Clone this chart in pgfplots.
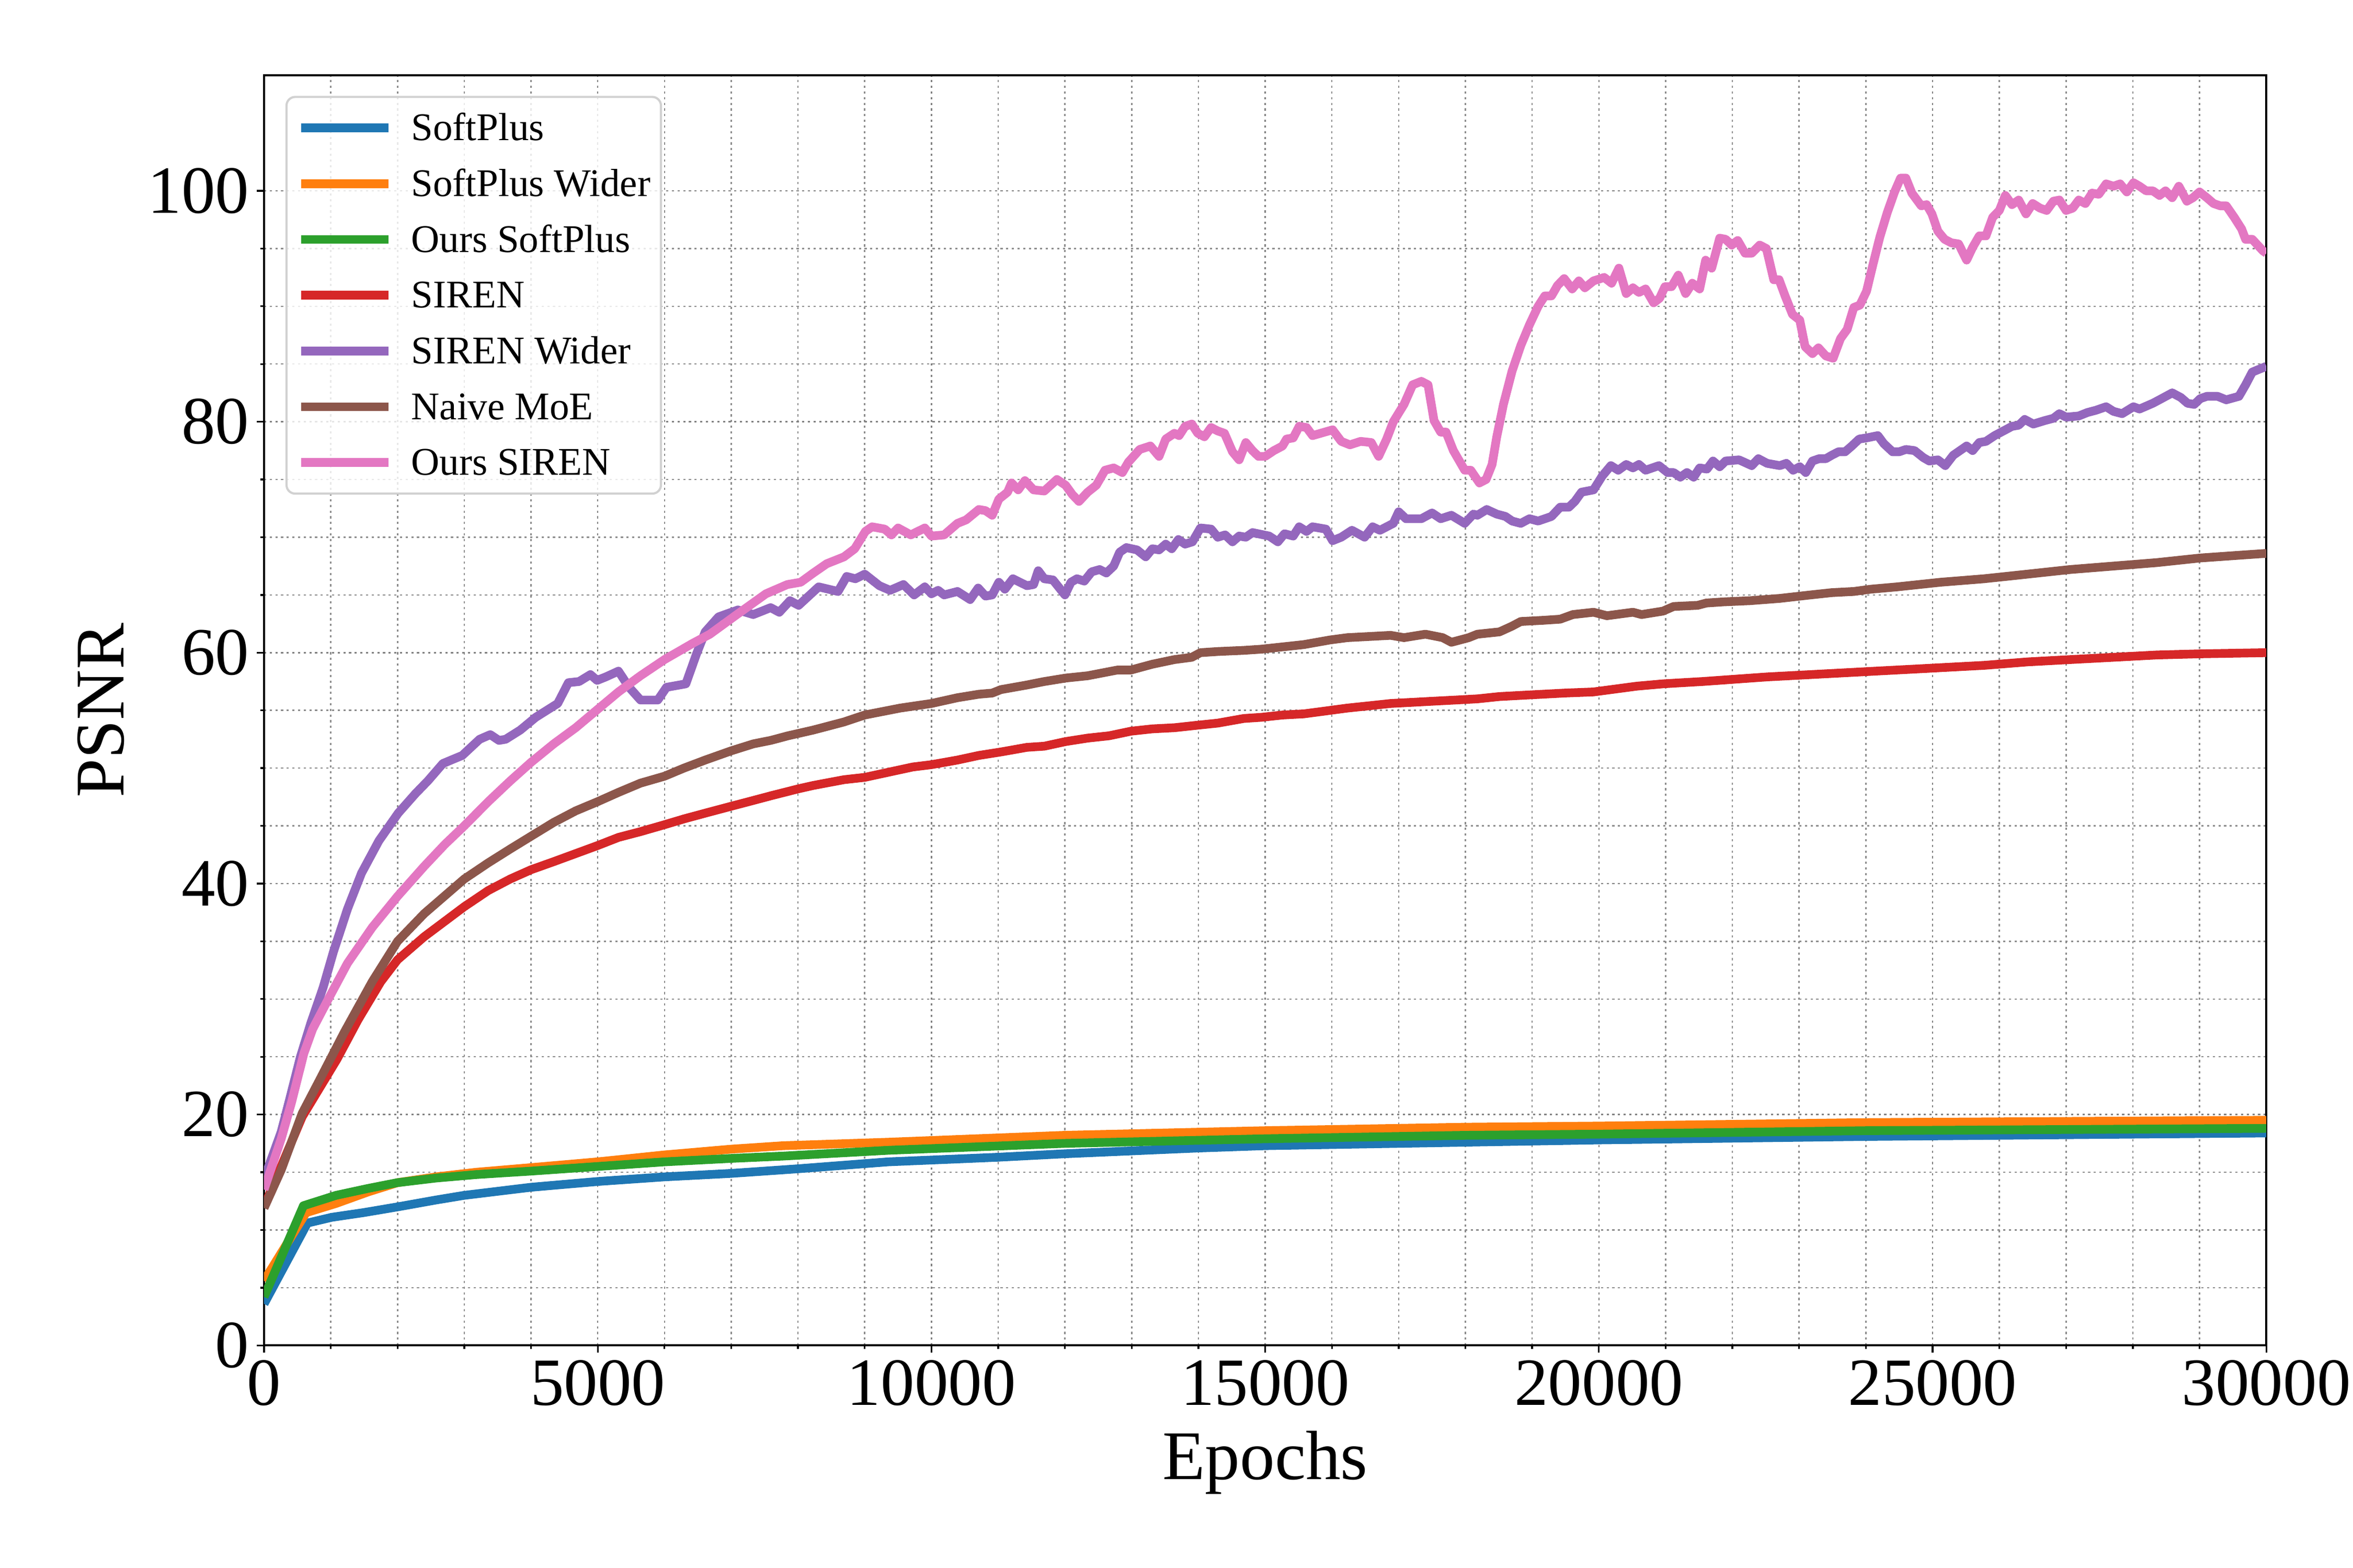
\documentclass[border=0pt]{standalone}
\usepackage{fontspec}
\setmainfont{Liberation Serif}
\usepackage{pgfplots}
\pgfplotsset{compat=1.18}
\definecolor{tabblue}{HTML}{1F77B4}
\definecolor{taborange}{HTML}{FF7F0E}
\definecolor{tabgreen}{HTML}{2CA02C}
\definecolor{tabred}{HTML}{D62728}
\definecolor{tabpurple}{HTML}{9467BD}
\definecolor{tabbrown}{HTML}{8C564B}
\definecolor{tabpink}{HTML}{E377C2}
\begin{document}
\begin{tikzpicture}
\useasboundingbox (-121.2pt,-102pt) rectangle (958.8pt,617.6pt);
\begin{axis}[
  at={(0,0)}, anchor=south west,
  scale only axis, width=919pt, height=583pt,
  xmin=0, xmax=30000, ymin=0, ymax=110,
  xtick={0,5000,...,30000}, ytick={0,20,...,100},
  minor x tick num=4, minor y tick num=3,
  scaled x ticks=false,
  /pgf/number format/assume math mode=true,
  /pgf/number format/1000 sep={},
  tick pos=left, tick align=outside,
  major tick length=3.3pt, minor tick length=1.7pt,
  tick style={black, line width=0.8pt},
  axis line style={black, line width=0.9pt},
  grid=both,
  major grid style={black!50, line width=0.6pt, dash pattern=on 1pt off 1.6pt},
  minor grid style={black!45, line width=0.6pt, dash pattern=on 1pt off 1.6pt},
  xticklabel style={font=\fontsize{31}{37}\selectfont},
  yticklabel style={font=\fontsize{31}{37}\selectfont},
  xlabel={Epochs}, ylabel={PSNR},
  xlabel style={font=\fontsize{32}{38}\selectfont, at={(axis description cs:0.5,0)}, anchor=center, yshift=-53.8pt},
  ylabel style={font=\fontsize{32}{38}\selectfont, at={(axis description cs:-0.0816,0.5)}, anchor=center},
  legend cell align=left,
  legend image code/.code={\draw[#1, line cap=butt] (0pt,0pt) -- (40pt,0pt);},
  legend style={
    at={(axis description cs:0,1)}, anchor=north west, xshift=9.8pt, yshift=-9.4pt,
    draw=black!18, line width=1pt, rounded corners=4pt,
    fill=white, fill opacity=0.8, text opacity=1,
    font=\fontsize{18}{21.6}\selectfont,
    inner xsep=4.8pt, inner ysep=5.5pt,
    nodes={inner sep=0pt, text height=14.5pt, text depth=3pt},
    row sep=8.1pt,
    /tikz/every odd column/.append style={column sep=8.5pt},
  },
  every axis plot/.append style={line width=4pt, line join=round},
]
% SoftPlus
\addplot[tabblue] coordinates {
(0,3.6) (650,10.6) (1016,11.1) (1487,11.5) (2000,12.0) (2580,12.6) (3000,13.0) (4000,13.7) (5000,14.2) (6000,14.6) (7000,14.9) (8000,15.3) (9350,15.9) (11000,16.3) (12000,16.6) (14000,17.1) (15000,17.3) (17000,17.5) (18000,17.6) (20000,17.8) (24000,18.1) (30000,18.4)
};
\addlegendentry{SoftPlus}
% SoftPlus Wider
\addplot[taborange] coordinates {
(0,5.6) (630,11.5) (1080,12.3) (1560,13.3) (2000,14.1) (2580,14.6) (3180,15.0) (4000,15.4) (5000,15.9) (6000,16.5) (7000,17.0) (7780,17.3) (9350,17.6) (12000,18.2) (15000,18.6) (18000,18.9) (20000,19.0) (24000,19.3) (30000,19.5)
};
\addlegendentry{SoftPlus Wider}
% Ours SoftPlus
\addplot[tabgreen] coordinates {
(0,4.2) (590,12.1) (1080,13.0) (1560,13.6) (2000,14.1) (2580,14.5) (3180,14.8) (4000,15.1) (5000,15.5) (6000,15.9) (7000,16.2) (7780,16.4) (9350,16.9) (12000,17.5) (15000,17.9) (18000,18.2) (20000,18.3) (24000,18.6) (30000,18.8)
};
\addlegendentry{Ours SoftPlus}
% SIREN
\addplot[tabred] coordinates {
(0,12.0) (571,19.8) (1094,24.8) (1408,28.2) (1749,31.5) (2000,33.4) (2400,35.4) (3000,38.0) (3360,39.4) (3690,40.4) (4000,41.2) (4340,41.9) (4670,42.6) (5000,43.3) (5310,44.0) (5640,44.5) (6000,45.1) (6290,45.6) (6610,46.1) (7000,46.7) (7330,47.2) (7590,47.6) (8000,48.2) (8230,48.5) (8690,49.0) (9000,49.2) (9400,49.7) (9720,50.1) (10000,50.3) (10390,50.7) (10710,51.1) (11040,51.4) (11430,51.8) (11690,51.9) (12010,52.3) (12340,52.6) (12660,52.8) (12990,53.2) (13310,53.4) (13640,53.5) (13960,53.7) (14290,53.9) (14680,54.3) (14940,54.4) (15260,54.6) (15580,54.7) (15970,55.0) (16230,55.2) (16560,55.4) (16880,55.6) (17210,55.7) (17530,55.8) (17860,55.9) (18180,56.0) (18510,56.2) (18830,56.3) (19160,56.4) (19480,56.5) (19920,56.6) (20310,56.9) (20570,57.1) (20960,57.3) (21550,57.5) (22520,57.9) (23170,58.1) (23820,58.3) (24470,58.5) (25120,58.7) (25770,58.9) (26420,59.2) (27060,59.4) (27710,59.6) (28360,59.8) (29010,59.9) (30000,60.0)
};
\addlegendentry{SIREN}
% SIREN Wider
\addplot[tabpurple] coordinates {
(0,14.4) (257,18.5) (387,21.4) (545,25.0) (700,27.9) (885,31.0) (1040,34.1) (1250,37.8) (1460,40.9) (1720,43.7) (2010,46.1) (2270,47.8) (2455,48.9) (2680,50.4) (2970,51.1) (3230,52.5) (3390,52.9) (3520,52.4) (3620,52.5) (3840,53.3) (4070,54.4) (4400,55.6) (4560,57.4) (4720,57.5) (4890,58.1) (4990,57.6) (5120,57.9) (5310,58.4) (5470,57.0) (5640,55.9) (5900,55.9) (6030,57.0) (6320,57.3) (6480,59.9) (6610,61.8) (6810,63.1) (7100,63.7) (7330,63.3) (7590,63.9) (7720,63.5) (7880,64.5) (8010,64.1) (8310,65.7) (8600,65.3) (8730,66.6) (8860,66.4) (9000,66.8) (9220,65.8) (9380,65.4) (9580,65.9) (9740,65.0) (9900,65.7) (10000,65.1) (10100,65.4) (10190,65.0) (10390,65.3) (10580,64.6) (10700,65.6) (10810,64.9) (10910,65.0) (11010,66.1) (11100,65.5) (11220,66.4) (11430,65.8) (11530,65.9) (11600,67.1) (11690,66.4) (11820,66.3) (12000,65.0) (12090,66.1) (12180,66.4) (12290,66.2) (12400,67.0) (12520,67.2) (12620,66.9) (12730,67.5) (12820,68.7) (12920,69.1) (13080,68.9) (13210,68.3) (13310,69.0) (13410,68.9) (13510,69.4) (13600,69.0) (13700,69.8) (13800,69.4) (13910,69.6) (14030,70.8) (14190,70.7) (14290,70.0) (14400,70.2) (14510,69.6) (14610,70.1) (14710,70.0) (14810,70.4) (15060,70.1) (15190,69.6) (15290,70.3) (15420,70.1) (15510,70.9) (15620,70.5) (15710,70.9) (15910,70.7) (16010,69.7) (16140,70.0) (16300,70.6) (16490,70.0) (16610,70.9) (16720,70.6) (16920,71.2) (17000,72.2) (17110,71.6) (17340,71.6) (17500,72.1) (17630,71.6) (17790,71.9) (17990,71.2) (18120,72.0) (18180,71.9) (18320,72.4) (18470,72.0) (18600,71.8) (18700,71.4) (18830,71.2) (18960,71.6) (19090,71.4) (19290,71.8) (19420,72.6) (19550,72.6) (19640,73.1) (19740,73.9) (19920,74.1) (20050,75.3) (20180,76.2) (20290,75.8) (20410,76.3) (20510,76.0) (20600,76.3) (20700,75.8) (20900,76.2) (21030,75.6) (21120,75.6) (21220,75.2) (21320,75.6) (21420,75.2) (21510,76.0) (21620,75.9) (21710,76.6) (21810,76.1) (21900,76.6) (22100,76.7) (22290,76.2) (22390,76.8) (22520,76.4) (22710,76.2) (22810,76.4) (22910,75.8) (23010,76.1) (23100,75.6) (23200,76.6) (23300,76.8) (23400,76.8) (23490,77.1) (23590,77.4) (23690,77.4) (23790,77.9) (23900,78.5) (24010,78.6) (24180,78.8) (24270,78.1) (24400,77.4) (24500,77.4) (24600,77.6) (24730,77.5) (24860,76.9) (24950,76.6) (25080,76.7) (25190,76.2) (25310,77.1) (25510,77.9) (25600,77.5) (25700,78.2) (25800,78.3) (25930,78.8) (26060,79.2) (26190,79.6) (26290,79.7) (26380,80.2) (26510,79.8) (26680,80.1) (26810,80.3) (26900,80.7) (27000,80.4) (27190,80.5) (27320,80.8) (27450,81.0) (27600,81.3) (27710,80.9) (27840,80.7) (28010,81.3) (28100,81.1) (28300,81.6) (28430,82.0) (28590,82.5) (28720,82.1) (28820,81.6) (28920,81.5) (29010,82.0) (29110,82.2) (29270,82.2) (29400,81.9) (29590,82.2) (29690,83.2) (29790,84.3) (30000,84.8)
};
\addlegendentry{SIREN Wider}
% Naive MoE
\addplot[tabbrown] coordinates {
(0,11.9) (257,15.2) (571,20.1) (833,23.0) (1200,27.1) (1620,31.5) (2000,35.0) (2400,37.4) (3000,40.4) (3360,41.8) (3690,43.0) (4000,44.1) (4340,45.3) (4670,46.3) (5000,47.1) (5310,47.9) (5640,48.7) (6000,49.3) (6290,50.0) (6610,50.7) (7000,51.5) (7330,52.1) (7590,52.4) (7850,52.8) (8230,53.3) (8690,54.0) (9000,54.6) (9530,55.2) (10000,55.6) (10390,56.1) (10710,56.4) (10910,56.5) (11040,56.8) (11430,57.2) (11690,57.5) (12010,57.8) (12340,58.0) (12790,58.5) (12990,58.5) (13310,59.0) (13640,59.4) (13900,59.6) (14030,60.0) (14290,60.1) (14680,60.2) (14940,60.3) (15260,60.5) (15580,60.7) (15970,61.1) (16230,61.3) (16560,61.4) (16880,61.5) (17080,61.3) (17400,61.6) (17660,61.3) (17790,60.9) (18050,61.3) (18180,61.6) (18510,61.8) (18700,62.3) (18830,62.7) (19160,62.8) (19420,62.9) (19610,63.3) (19920,63.5) (20120,63.2) (20510,63.5) (20640,63.3) (20960,63.6) (21120,64.0) (21480,64.1) (21610,64.3) (21870,64.4) (22260,64.5) (22710,64.7) (23170,65.0) (23490,65.2) (23820,65.3) (24080,65.5) (24470,65.7) (25120,66.1) (25770,66.4) (26420,66.8) (27060,67.2) (27710,67.5) (28360,67.8) (29010,68.2) (30000,68.6)
};
\addlegendentry{Naive MoE}
% Ours SIREN
\addplot[tabpink] coordinates {
(0,13.5) (257,17.9) (414,21.1) (597,25.3) (728,27.4) (963,30.0) (1250,33.1) (1620,36.2) (2000,38.9) (2400,41.5) (2710,43.4) (3000,45.0) (3360,47.1) (3690,48.9) (4000,50.5) (4340,52.1) (4670,53.5) (5000,55.1) (5310,56.6) (5640,58.0) (6000,59.4) (6420,60.8) (6680,61.6) (7060,63.2) (7520,65.1) (7840,65.9) (8040,66.1) (8230,66.9) (8430,67.7) (8690,68.3) (8850,69.0) (9010,70.5) (9110,70.9) (9300,70.7) (9400,70.2) (9500,70.8) (9690,70.2) (9900,70.8) (10000,70.1) (10190,70.2) (10390,71.2) (10520,71.5) (10710,72.4) (10810,72.3) (10910,71.9) (11010,73.3) (11140,73.9) (11200,74.7) (11300,74.1) (11400,74.9) (11530,74.1) (11690,74.0) (11880,75.0) (12010,74.5) (12110,73.7) (12210,73.1) (12340,73.9) (12470,74.5) (12600,75.8) (12730,76.0) (12860,75.6) (12950,76.5) (13120,77.6) (13280,77.9) (13410,77.0) (13510,78.5) (13640,79.0) (13710,78.8) (13800,79.6) (13900,79.8) (13990,79.0) (14090,78.7) (14190,79.5) (14290,79.2) (14390,79.0) (14510,77.4) (14610,76.7) (14710,78.2) (14810,77.5) (14900,77.0) (15000,77.0) (15130,77.5) (15260,77.9) (15320,78.5) (15420,78.6) (15510,79.6) (15620,79.5) (15710,78.8) (16010,79.3) (16140,78.3) (16270,78.0) (16430,78.3) (16590,78.2) (16700,77.0) (16820,78.5) (16920,80.0) (17080,81.5) (17210,83.2) (17340,83.5) (17440,83.2) (17530,80.1) (17630,79.1) (17710,79.1) (17820,77.5) (17990,75.8) (18080,75.8) (18210,74.7) (18310,75.0) (18400,76.3) (18470,78.7) (18570,81.5) (18700,84.4) (18830,86.6) (18960,88.4) (19090,90.0) (19190,90.9) (19290,90.9) (19380,91.8) (19480,92.4) (19600,91.5) (19700,92.2) (19790,91.6) (19920,92.2) (20080,92.5) (20190,92.0) (20300,93.3) (20410,91.1) (20510,91.6) (20600,91.2) (20700,91.5) (20820,90.3) (20910,90.7) (20990,91.7) (21090,91.7) (21190,92.7) (21300,91.1) (21400,92.0) (21510,91.5) (21600,94.0) (21690,93.3) (21810,95.9) (21900,95.8) (21990,95.3) (22080,95.7) (22190,94.6) (22290,94.6) (22410,95.3) (22510,95.0) (22620,92.3) (22700,92.3) (22790,90.9) (22900,89.3) (23010,88.8) (23090,86.5) (23200,85.9) (23290,86.4) (23400,85.7) (23510,85.5) (23620,87.2) (23720,88.0) (23820,89.9) (23910,90.1) (24010,91.3) (24110,93.7) (24210,96.0) (24320,98.1) (24430,99.9) (24520,101.1) (24600,101.1) (24690,99.8) (24830,98.7) (24910,98.8) (24990,98.0) (25080,96.5) (25180,95.8) (25280,95.5) (25390,95.4) (25510,94.0) (25600,95.1) (25700,96.1) (25800,96.1) (25900,97.7) (26000,98.3) (26090,99.6) (26190,98.8) (26290,99.2) (26400,98.0) (26500,98.9) (26610,98.5) (26710,98.3) (26810,99.1) (26900,99.2) (27000,98.3) (27100,98.5) (27190,99.2) (27290,98.9) (27390,99.8) (27490,99.7) (27600,100.6) (27710,100.4) (27810,100.6) (27910,99.9) (28010,100.7) (28100,100.4) (28200,100.0) (28300,100.0) (28400,99.6) (28490,100.0) (28590,99.4) (28690,100.4) (28810,99.1) (28900,99.4) (29000,99.9) (29110,99.4) (29210,98.9) (29310,98.7) (29400,98.7) (29520,97.7) (29630,96.7) (29690,95.8) (29790,95.8) (29950,94.8) (30000,94.6)
};
\addlegendentry{Ours SIREN}
\end{axis}
\end{tikzpicture}
\end{document}
